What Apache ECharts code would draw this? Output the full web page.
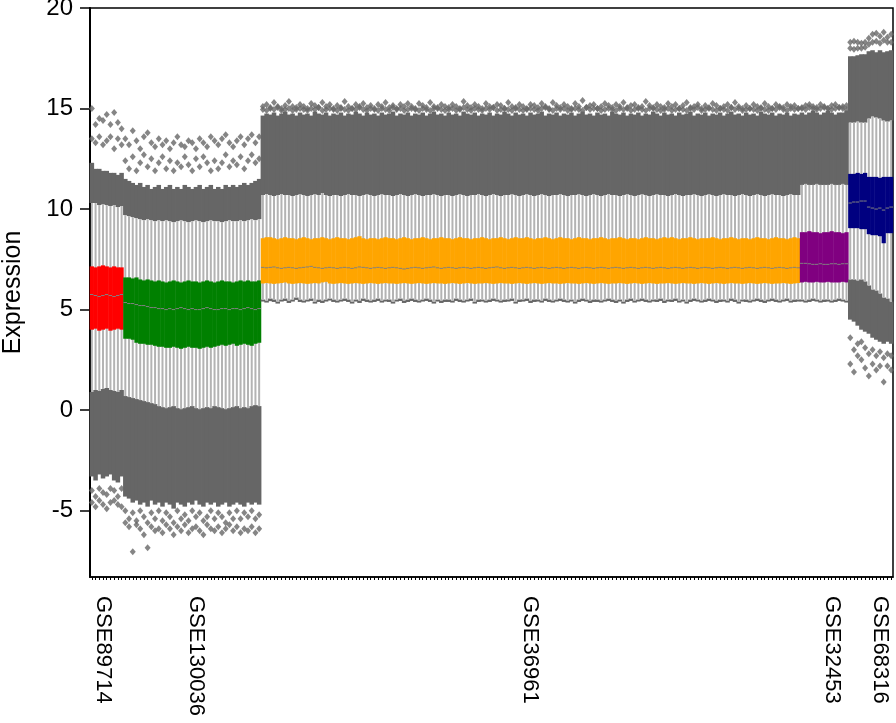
<!DOCTYPE html>
<html><head><meta charset="utf-8">
<script src="https://cdn.jsdelivr.net/npm/echarts@6/dist/echarts.min.js"></script>
<style>html,body{margin:0;padding:0;background:#fff}#c{width:896px;height:723px}</style>
</head><body><div id="c"></div>
<script>
// ---- groups ----
const groupNames = ['GSE89714','GSE130036','GSE36961','GSE32453','GSE68316'];
const groupSizes = [9, 37, 145, 13, 12];
const groupColors = ['#ff0000','#008000','#ffa500','#800080','#000080'];
const labelIndex = [3, 28, 118, 199, 212];

// ---- per-sample statistics ----
// lower end of the dense lower outlier band
const dLo = [
 -3.3,-3.5,-3.2,-3.4,-3.3,-3.2,-3.5,-3.6,-3.3,
 -4.3,-4.4,-4.6,-4.5,-4.7,-4.6,-4.8,-4.5,-4.7,-4.6,
 -4.8,-4.6,-4.7,-4.9,-4.6,-4.7,-4.8,-4.6,-4.7,-4.5,
 -4.7,-4.8,-4.6,-4.7,-4.6,-4.8,-4.7,-4.6,-4.8,-4.7,
 -4.6,-4.7,-4.8,-4.6,-4.7,-4.6,-4.7,
 5.4,5.35,5.42,5.38,5.3,5.4,5.43,5.33,5.4,5.48,
 5.38,5.35,5.4,5.43,5.3,5.38,5.33,5.4,5.45,5.38,
 5.35,5.4,5.43,5.38,5.3,5.4,5.33,5.43,5.38,5.35,
 5.38,5.43,5.35,5.4,5.38,5.3,5.4,5.43,5.33,5.38,
 5.43,5.38,5.35,5.4,5.43,5.38,5.3,5.4,5.33,5.38,
 5.38,5.35,5.43,5.38,5.35,5.4,5.43,5.3,5.38,5.4,
 5.35,5.38,5.43,5.4,5.35,5.38,5.4,5.43,5.3,5.38,
 5.4,5.43,5.33,5.38,5.4,5.35,5.43,5.38,5.35,5.4,
 5.43,5.38,5.35,5.4,5.3,5.38,5.43,5.4,5.33,5.38,
 5.38,5.35,5.4,5.43,5.38,5.33,5.4,5.3,5.38,5.43,
 5.35,5.4,5.43,5.38,5.35,5.4,5.38,5.43,5.33,5.4,
 5.38,5.43,5.35,5.4,5.3,5.38,5.43,5.4,5.35,5.38,
 5.43,5.4,5.33,5.38,5.4,5.35,5.43,5.38,5.3,5.4,
 5.38,5.35,5.4,5.43,5.38,5.33,5.4,5.43,5.38,5.35,
 5.4,5.43,5.35,5.38,5.4,
 5.4,5.35,5.38,5.43,5.4,5.35,5.38,5.4,5.35,5.38,5.43,5.4,5.35,
 4.5,4.4,4.2,4.0,3.9,3.8,3.6,3.5,3.4,3.3,3.4,3.3
];
// lower whisker end
const wLo = [
 0.9,1.0,0.95,1.05,1.1,1.0,0.95,0.9,1.0,
 0.7,0.65,0.6,0.55,0.5,0.45,0.4,0.35,0.3,0.2,
 0.15,0.1,0.15,0.2,0.1,0.05,0.1,0.15,0.2,0.1,
 0.05,0.1,0.15,0.1,0.2,0.15,0.1,0.05,0.1,0.15,
 0.2,0.1,0.15,0.1,0.2,0.25,0.2,
 5.5,5.45,5.55,5.5,5.4,5.5,5.55,5.45,5.5,5.6,
 5.5,5.45,5.5,5.55,5.4,5.5,5.45,5.5,5.55,5.5,
 5.45,5.5,5.55,5.5,5.4,5.5,5.45,5.55,5.5,5.45,
 5.5,5.55,5.45,5.5,5.5,5.4,5.5,5.55,5.45,5.5,
 5.55,5.5,5.45,5.5,5.55,5.5,5.4,5.5,5.45,5.5,
 5.5,5.45,5.55,5.5,5.45,5.5,5.55,5.4,5.5,5.5,
 5.45,5.5,5.55,5.5,5.45,5.5,5.5,5.55,5.4,5.5,
 5.5,5.55,5.45,5.5,5.5,5.45,5.55,5.5,5.45,5.5,
 5.55,5.5,5.45,5.5,5.4,5.5,5.55,5.5,5.45,5.5,
 5.5,5.45,5.5,5.55,5.5,5.45,5.5,5.4,5.5,5.55,
 5.45,5.5,5.55,5.5,5.45,5.5,5.5,5.55,5.45,5.5,
 5.5,5.55,5.45,5.5,5.4,5.5,5.55,5.5,5.45,5.5,
 5.55,5.5,5.45,5.5,5.5,5.45,5.55,5.5,5.4,5.5,
 5.5,5.45,5.5,5.55,5.5,5.45,5.5,5.55,5.5,5.45,
 5.5,5.55,5.45,5.5,5.5,
 5.5,5.45,5.5,5.55,5.5,5.45,5.5,5.5,5.45,5.5,5.55,5.5,5.45,
 6.5,6.5,6.45,6.5,6.4,6.2,6.0,5.95,5.8,5.6,5.55,5.4
];
// first quartile
const q1 = [
 4.0,4.05,3.95,4.0,4.05,3.95,4.0,4.05,4.0,
 3.55,3.55,3.5,3.35,3.3,3.3,3.25,3.25,3.2,3.15,
 3.15,3.1,3.1,3.15,3.1,3.05,3.1,3.15,3.1,3.1,
 3.05,3.1,3.15,3.1,3.15,3.2,3.25,3.2,3.25,3.3,
 3.2,3.25,3.3,3.25,3.2,3.3,3.35,
 6.3,6.32,6.3,6.28,6.3,6.32,6.35,6.3,6.28,6.3,
 6.32,6.3,6.28,6.3,6.32,6.3,6.35,6.38,6.3,6.28,
 6.3,6.32,6.3,6.28,6.3,6.32,6.3,6.28,6.3,6.32,
 6.3,6.28,6.3,6.32,6.3,6.3,6.28,6.3,6.32,6.3,
 6.28,6.3,6.32,6.3,6.28,6.3,6.32,6.3,6.3,6.28,
 6.3,6.32,6.3,6.28,6.3,6.32,6.3,6.28,6.3,6.3,
 6.32,6.3,6.28,6.3,6.32,6.3,6.3,6.28,6.3,6.32,
 6.3,6.28,6.3,6.32,6.3,6.28,6.3,6.32,6.3,6.3,
 6.28,6.3,6.32,6.3,6.3,6.28,6.3,6.32,6.3,6.28,
 6.3,6.32,6.3,6.28,6.3,6.3,6.32,6.3,6.28,6.3,
 6.32,6.3,6.28,6.3,6.32,6.3,6.28,6.3,6.3,6.32,
 6.3,6.28,6.3,6.32,6.3,6.3,6.28,6.3,6.32,6.3,
 6.28,6.3,6.32,6.3,6.28,6.3,6.32,6.3,6.3,6.28,
 6.3,6.32,6.3,6.28,6.3,6.32,6.3,6.28,6.3,6.3,
 6.32,6.3,6.28,6.3,6.32,
 6.35,6.38,6.35,6.35,6.38,6.35,6.35,6.38,6.35,6.35,6.35,6.38,6.35,
 9.05,9.05,9.05,9.0,9.0,8.75,8.7,8.7,8.65,8.3,8.8,8.8
];
// median
const med = [
 5.75,5.7,5.65,5.7,5.75,5.7,5.65,5.7,5.75,
 5.35,5.3,5.3,5.25,5.2,5.2,5.15,5.1,5.1,5.05,
 5.05,5.0,5.05,5.0,5.05,5.1,5.05,5.0,5.05,5.0,
 5.0,5.05,5.1,5.05,5.0,5.0,5.05,5.05,5.0,5.05,
 5.05,5.0,5.05,5.1,5.05,5.0,5.05,
 7.1,7.08,7.1,7.12,7.08,7.05,7.08,7.1,7.08,7.05,
 7.08,7.1,7.12,7.15,7.1,7.08,7.05,7.08,7.1,7.08,
 7.05,7.08,7.1,7.08,7.05,7.08,7.12,7.1,7.08,7.05,
 7.08,7.1,7.08,7.05,7.08,7.1,7.08,7.05,7.02,7.05,
 7.08,7.1,7.08,7.05,7.08,7.1,7.12,7.08,7.05,7.08,
 7.1,7.08,7.05,7.08,7.1,7.08,7.05,7.08,7.1,7.08,
 7.05,7.08,7.1,7.12,7.08,7.05,7.08,7.1,7.08,7.05,
 7.08,7.1,7.08,7.05,7.08,7.1,7.08,7.05,7.08,7.1,
 7.08,7.05,7.08,7.1,7.08,7.05,7.08,7.1,7.08,7.05,
 7.08,7.1,7.08,7.05,7.08,7.1,7.08,7.05,7.08,7.1,
 7.08,7.05,7.08,7.1,7.08,7.05,7.08,7.1,7.08,7.05,
 7.08,7.1,7.08,7.05,7.08,7.1,7.08,7.05,7.08,7.1,
 7.08,7.05,7.08,7.1,7.08,7.05,7.08,7.1,7.08,7.05,
 7.08,7.1,7.08,7.05,7.08,7.1,7.08,7.05,7.08,7.1,
 7.08,7.05,7.08,7.1,7.08,
 7.3,7.3,7.28,7.25,7.25,7.28,7.25,7.25,7.28,7.28,7.25,7.28,7.28,
 10.3,10.35,10.35,10.4,10.4,10.1,10.05,10.0,10.05,9.95,10.05,10.1
];
// third quartile
const q3 = [
 7.15,7.1,7.15,7.2,7.15,7.1,7.15,7.1,7.1,
 6.6,6.6,6.55,6.6,6.5,6.45,6.5,6.45,6.4,6.45,
 6.4,6.35,6.4,6.45,6.4,6.35,6.4,6.45,6.4,6.4,
 6.35,6.4,6.45,6.4,6.35,6.4,6.45,6.4,6.4,6.35,
 6.4,6.45,6.4,6.45,6.4,6.4,6.45,
 8.55,8.6,8.6,8.55,8.5,8.55,8.6,8.55,8.55,8.5,
 8.55,8.6,8.55,8.5,8.55,8.55,8.6,8.55,8.5,8.55,
 8.6,8.55,8.55,8.5,8.55,8.6,8.65,8.55,8.5,8.55,
 8.55,8.5,8.55,8.6,8.55,8.55,8.5,8.55,8.6,8.55,
 8.5,8.55,8.55,8.6,8.55,8.5,8.55,8.55,8.6,8.55,
 8.55,8.5,8.55,8.6,8.55,8.55,8.5,8.55,8.55,8.6,
 8.55,8.5,8.55,8.55,8.6,8.55,8.5,8.55,8.6,8.55,
 8.55,8.6,8.55,8.5,8.55,8.55,8.6,8.55,8.5,8.55,
 8.6,8.55,8.55,8.5,8.55,8.6,8.55,8.55,8.5,8.55,
 8.55,8.6,8.55,8.5,8.55,8.55,8.6,8.55,8.5,8.55,
 8.55,8.5,8.55,8.6,8.55,8.55,8.5,8.55,8.6,8.55,
 8.6,8.55,8.5,8.55,8.55,8.6,8.55,8.5,8.55,8.55,
 8.55,8.6,8.55,8.5,8.55,8.55,8.6,8.55,8.5,8.55,
 8.55,8.5,8.55,8.6,8.55,8.55,8.5,8.55,8.6,8.55,
 8.55,8.5,8.55,8.6,8.55,
 8.85,8.85,8.9,8.85,8.85,8.8,8.85,8.85,8.9,8.85,8.85,8.8,8.85,
 11.75,11.75,11.8,11.75,11.8,11.6,11.6,11.6,11.55,11.6,11.6,11.6
];
// upper whisker end
const wHi = [
 10.3,10.3,10.2,10.25,10.2,10.15,10.2,10.1,10.15,
 9.7,9.65,9.6,9.55,9.5,9.45,9.5,9.45,9.4,9.45,
 9.4,9.45,9.4,9.35,9.4,9.45,9.4,9.35,9.4,9.45,
 9.4,9.35,9.4,9.45,9.4,9.4,9.35,9.4,9.45,9.4,
 9.4,9.45,9.4,9.45,9.5,9.45,9.5,
 10.7,10.75,10.7,10.65,10.7,10.75,10.7,10.7,10.65,10.7,
 10.75,10.7,10.65,10.7,10.75,10.7,10.8,10.7,10.65,10.7,
 10.7,10.65,10.7,10.75,10.7,10.7,10.65,10.7,10.75,10.7,
 10.65,10.7,10.75,10.7,10.7,10.65,10.7,10.75,10.7,10.65,
 10.7,10.75,10.7,10.65,10.7,10.7,10.75,10.7,10.65,10.7,
 10.7,10.65,10.7,10.75,10.7,10.65,10.7,10.7,10.75,10.7,
 10.65,10.7,10.75,10.7,10.65,10.7,10.7,10.75,10.7,10.65,
 10.7,10.75,10.7,10.65,10.7,10.75,10.7,10.65,10.7,10.7,
 10.75,10.7,10.65,10.7,10.7,10.75,10.7,10.65,10.7,10.75,
 10.7,10.65,10.7,10.75,10.7,10.7,10.65,10.7,10.75,10.7,
 10.65,10.7,10.75,10.7,10.65,10.7,10.75,10.7,10.7,10.65,
 10.7,10.75,10.7,10.65,10.7,10.7,10.75,10.7,10.65,10.7,
 10.75,10.7,10.65,10.7,10.75,10.7,10.7,10.65,10.7,10.75,
 10.7,10.65,10.7,10.75,10.7,10.65,10.7,10.75,10.7,10.7,
 10.65,10.7,10.75,10.7,10.7,
 11.2,11.25,11.2,11.2,11.25,11.2,11.2,11.2,11.25,11.2,11.2,11.25,11.2,
 14.3,14.3,14.35,14.3,14.3,14.5,14.6,14.55,14.5,14.4,14.35,14.4
];
// upper end of the dense upper outlier band
const dHi = [
 12.3,12.0,12.0,11.9,11.9,11.8,11.8,11.7,11.8,
 11.5,11.4,11.3,11.2,11.3,11.1,11.2,11.0,11.1,11.2,
 11.0,11.1,11.2,11.0,11.1,11.0,11.2,11.1,11.0,11.1,
 11.2,11.0,11.1,11.2,11.0,11.1,11.0,11.2,11.1,11.2,
 11.1,11.2,11.3,11.2,11.3,11.4,11.5,
 14.65,14.75,14.7,14.8,14.65,14.75,14.85,14.7,14.75,14.65,
 14.8,14.7,14.75,14.65,14.85,14.75,14.7,14.8,14.65,14.75,
 14.7,14.8,14.65,14.75,14.7,14.85,14.75,14.65,14.8,14.7,
 14.75,14.65,14.8,14.7,14.75,14.85,14.65,14.75,14.7,14.8,
 14.65,14.75,14.7,14.8,14.65,14.75,14.85,14.7,14.75,14.65,
 14.8,14.7,14.75,14.65,14.85,14.75,14.7,14.8,14.65,14.75,
 14.7,14.8,14.65,14.75,14.7,14.85,14.75,14.65,14.8,14.7,
 14.75,14.65,14.8,14.7,14.75,14.85,14.65,14.75,14.7,14.8,
 14.65,14.75,14.7,14.8,14.65,14.75,14.85,14.7,14.75,14.65,
 14.8,14.7,14.75,14.65,14.85,14.75,14.7,14.8,14.65,14.75,
 14.7,14.8,14.65,14.75,14.7,14.85,14.75,14.65,14.8,14.7,
 14.75,14.65,14.8,14.7,14.75,14.85,14.65,14.75,14.7,14.8,
 14.65,14.75,14.7,14.8,14.65,14.75,14.85,14.7,14.75,14.65,
 14.8,14.7,14.75,14.65,14.85,14.75,14.7,14.8,14.65,14.75,
 14.7,14.8,14.65,14.75,14.7,
 14.8,14.7,14.8,14.9,14.8,14.7,14.8,14.9,14.8,14.7,14.8,14.8,14.9,
 17.6,17.6,17.65,17.7,17.7,17.85,17.9,17.8,17.9,17.8,17.85,17.9
];
// sparse upper outliers
const upMid = [
 13.5,13.3,13.6,13.2,13.4,13.6,13.0,13.5,13.2,
 12.4,12.0,12.6,11.9,12.3,12.7,12.1,12.5,11.9,12.3,
 12.6,12.0,12.4,11.9,12.3,12.1,12.6,12.2,11.9,12.5,
 12.1,12.6,12.3,11.9,12.4,12.0,12.3,12.7,12.1,12.4,
 12.2,12.6,12.0,12.4,12.7,12.3,12.5,
 14.95,14.9,15.0,14.95,15.05,14.9,14.95,15.0,14.9,14.95,
 15.0,14.95,14.9,15.0,14.95,15.05,14.9,14.95,15.0,14.95,
 14.9,15.0,14.95,14.9,15.0,14.95,15.05,14.95,14.9,15.0,
 14.95,14.9,15.0,14.95,14.9,15.05,14.95,15.0,14.9,14.95,
 15.0,14.95,14.9,15.0,14.95,14.9,15.0,15.05,14.95,14.9,
 14.95,15.0,14.9,14.95,15.05,14.95,14.9,15.0,14.95,14.9,
 15.0,14.95,15.05,14.9,14.95,15.0,14.95,14.9,15.0,14.95,
 14.9,14.95,15.0,14.95,14.9,15.0,15.05,14.95,14.9,15.0,
 14.95,15.0,14.9,14.95,15.0,14.95,14.9,15.05,14.95,15.0,
 15.0,14.9,14.95,15.0,14.95,14.9,15.0,14.95,15.05,14.9,
 14.95,15.0,14.95,14.9,15.0,15.05,14.95,14.9,14.95,15.0,
 14.9,14.95,15.0,14.95,14.9,15.0,14.95,15.05,14.9,14.95,
 15.0,14.95,14.9,15.0,14.95,14.9,15.05,14.95,15.0,14.9,
 14.95,15.0,14.95,14.9,15.0,14.95,14.9,15.0,14.95,15.05,
 14.95,14.9,15.0,14.95,15.0,
 15.0,14.95,15.05,15.0,14.95,15.0,15.05,15.0,14.95,15.0,15.05,15.0,14.95,
 18.0,17.95,18.0,18.0,18.05,18.2,18.3,18.35,18.25,18.4,18.3,18.3
];
const upMax = [
 15.0,14.2,14.5,14.4,14.7,14.2,14.8,14.3,14.0,
 13.5,13.2,13.9,13.4,13.0,13.6,13.8,13.3,13.1,13.5,
 13.2,13.4,13.0,13.3,13.6,13.2,13.1,13.4,13.3,13.0,
 13.5,13.3,13.1,13.6,13.4,13.2,13.5,13.7,13.3,13.1,
 13.4,13.6,13.2,13.5,13.7,13.3,13.6,
 15.1,15.2,15.05,15.3,15.1,15.0,15.15,15.35,15.1,15.05,
 15.2,15.1,15.0,15.25,15.15,15.05,15.3,15.1,15.2,15.0,
 15.15,15.05,15.35,15.1,15.0,15.2,15.1,15.25,15.05,15.15,
 15.0,15.2,15.1,15.3,15.05,15.15,15.0,15.2,15.1,15.25,
 15.1,15.0,15.25,15.15,15.05,15.3,15.1,15.0,15.2,15.1,
 15.05,15.2,15.1,15.0,15.35,15.15,15.05,15.2,15.1,15.0,
 15.25,15.1,15.05,15.2,15.15,15.0,15.3,15.1,15.05,15.2,
 15.1,15.0,15.2,15.15,15.05,15.25,15.1,15.0,15.3,15.15,
 15.05,15.2,15.1,15.0,15.25,15.1,15.4,15.05,15.15,15.2,
 15.0,15.1,15.25,15.15,15.05,15.2,15.1,15.3,15.0,15.15,
 15.2,15.05,15.1,15.35,15.15,15.0,15.2,15.1,15.05,15.25,
 15.1,15.2,15.0,15.15,15.3,15.05,15.1,15.2,15.0,15.15,
 15.05,15.25,15.15,15.0,15.1,15.2,15.05,15.3,15.1,15.0,
 15.15,15.0,15.2,15.1,15.05,15.25,15.1,15.0,15.2,15.1,
 15.05,15.2,15.1,15.15,15.0,
 15.05,15.15,15.2,15.1,15.05,15.2,15.1,15.0,15.15,15.2,15.05,15.1,15.15,
 18.3,18.35,18.3,18.25,18.3,18.5,18.7,18.75,18.6,18.8,18.55,18.7
];
// sparse lower outliers (null where none are drawn)
const loMid = [
 -4.0,-4.3,-3.9,-4.1,-4.2,-3.9,-4.0,-4.3,-3.9,
 -5.0,-5.4,-5.1,-5.5,-5.0,-5.3,-5.6,-5.1,-5.4,-5.0,
 -5.5,-5.1,-5.3,-5.6,-5.0,-5.4,-5.2,-5.5,-5.0,-5.3,
 -5.1,-5.5,-5.3,-5.0,-5.4,-5.1,-5.3,-5.6,-5.1,-5.4,
 -5.0,-5.4,-5.1,-5.3,-5.0,-5.4,-5.2,
 null,null,null,null,null,null,null,null,null,null,null,null,null,null,null,null,null,null,null,null,
 null,null,null,null,null,null,null,null,null,null,null,null,null,null,null,null,null,null,null,null,
 null,null,null,null,null,null,null,null,null,null,null,null,null,null,null,null,null,null,null,null,
 null,null,null,null,null,null,null,null,null,null,null,null,null,null,null,null,null,null,null,null,
 null,null,null,null,null,null,null,null,null,null,null,null,null,null,null,null,null,null,null,null,
 null,null,null,null,null,null,null,null,null,null,null,null,null,null,null,null,null,null,null,null,
 null,null,null,null,null,null,null,null,null,null,null,null,null,null,null,null,null,null,null,null,
 null,null,null,null,null,
 null,null,null,null,null,null,null,null,null,null,null,null,null,
 3.6,3.0,3.3,3.4,3.1,2.8,3.0,2.7,2.9,2.6,2.8,2.7
];
const loMin = [
 -4.6,-4.8,-4.5,-4.7,-4.9,-4.6,-4.5,-4.7,-4.8,
 -5.6,-5.8,-7.05,-5.7,-5.9,-6.2,-6.85,-5.8,-6.0,-5.9,
 -6.1,-5.7,-5.9,-6.2,-5.8,-6.0,-5.7,-6.1,-5.9,-5.8,
 -6.0,-6.2,-5.7,-5.9,-6.0,-5.8,-6.1,-5.9,-5.7,-6.0,
 -5.8,-6.1,-5.9,-6.0,-5.8,-6.1,-5.9,
 null,null,null,null,null,null,null,null,null,null,null,null,null,null,null,null,null,null,null,null,
 null,null,null,null,null,null,null,null,null,null,null,null,null,null,null,null,null,null,null,null,
 null,null,null,null,null,null,null,null,null,null,null,null,null,null,null,null,null,null,null,null,
 null,null,null,null,null,null,null,null,null,null,null,null,null,null,null,null,null,null,null,null,
 null,null,null,null,null,null,null,null,null,null,null,null,null,null,null,null,null,null,null,null,
 null,null,null,null,null,null,null,null,null,null,null,null,null,null,null,null,null,null,null,null,
 null,null,null,null,null,null,null,null,null,null,null,null,null,null,null,null,null,null,null,null,
 null,null,null,null,null,
 null,null,null,null,null,null,null,null,null,null,null,null,null,
 2.3,1.9,2.7,2.5,2.1,1.7,2.3,2.0,2.2,1.4,2.2,2.0
];

// ---- build ----
const N = groupSizes.reduce((a, b) => a + b, 0);
const arrs = {dLo, wLo, q1, med, q3, wHi, dHi, upMid, upMax, loMid, loMin};
for (const k in arrs) if (arrs[k].length !== N) throw new Error(k + ' length ' + arrs[k].length + ' != ' + N);

const categories = [], groupOf = [];
groupNames.forEach((g, gi) => { for (let k = 0; k < groupSizes[gi]; k++) { categories.push(g); groupOf.push(gi); } });

const boxData = categories.map((c, i) => [i, dLo[i], wLo[i], q1[i], med[i], q3[i], wHi[i], dHi[i], groupOf[i]]);
const outlierPts = [];
categories.forEach((c, i) => {
  [upMid, upMax, loMid, loMin].forEach(a => { if (a[i] != null) outlierPts.push([i, a[i]]); });
});

const FONT = '"Liberation Sans", Arial, sans-serif';
const DENSE = '#666666';

function renderItem(params, api) {
  const i = api.value(0);
  const bw = api.size([1, 0])[0];
  const cx = api.coord([i, 0])[0];
  const Y = v => api.coord([i, v])[1];
  const v = k => api.value(k);
  const col = groupColors[v(8)];
  const ch = [];
  const band = (a, b) => {
    const ya = Y(a), yb = Y(b);
    ch.push({type: 'rect', shape: {x: cx - bw / 2 - 0.4, y: Math.min(ya, yb), width: bw + 0.8, height: Math.abs(ya - yb)},
             style: {fill: DENSE}});
  };
  if (v(1) < v(2)) band(v(1), v(2));
  if (v(7) > v(6)) band(v(6), v(7));
  ch.push({type: 'line', shape: {x1: cx, y1: Y(v(2)), x2: cx, y2: Y(v(6))}, style: {stroke: '#b3b3b3', lineWidth: 2}});
  ch.push({type: 'rect', shape: {x: cx - bw / 2 - 0.25, y: Y(v(5)), width: bw + 0.5, height: Y(v(3)) - Y(v(5))}, style: {fill: col}});
  ch.push({type: 'line', shape: {x1: cx - bw / 2, y1: Y(v(4)), x2: cx + bw / 2, y2: Y(v(4))}, style: {stroke: '#808080', lineWidth: 1}});
  return {type: 'group', children: ch};
}

const chart = echarts.init(document.getElementById('c'), null, {renderer: 'canvas'});
chart.setOption({
  animation: false,
  backgroundColor: '#ffffff',
  grid: {left: 90, right: 3, top: 8, bottom: 146, containLabel: false, outerBoundsMode: 'none',
         show: true, borderColor: '#000', borderWidth: 1.5, backgroundColor: 'transparent'},
  xAxis: {
    type: 'category', data: categories, boundaryGap: true,
    axisLine: {onZero: false, lineStyle: {color: '#000', width: 1.5}},
    axisTick: {show: true, interval: 0, alignWithLabel: true, length: 3, lineStyle: {color: '#000', width: 1}},
    axisLabel: {
      interval: 0, rotate: -90, margin: 19, fontSize: 22, color: '#000', fontFamily: FONT,
      formatter: (val, idx) => labelIndex.includes(idx) ? val : ''
    },
    splitLine: {show: false}
  },
  yAxis: {
    type: 'value', min: -8.3, max: 20,
    name: 'Expression', nameLocation: 'middle', nameGap: 64,
    nameTextStyle: {fontSize: 25, color: '#000', fontFamily: FONT},
    axisLine: {show: true, lineStyle: {color: '#000', width: 2}},
    axisTick: {show: true, length: 10, lineStyle: {color: '#000', width: 1.5}},
    axisLabel: {fontSize: 24, color: '#000', fontFamily: FONT, margin: 17, showMinLabel: false},
    splitLine: {show: false}
  },
  series: [
    {type: 'custom', renderItem, data: boxData, encode: {x: 0, y: [1, 2, 3, 4, 5, 6, 7]}, silent: true},
    {type: 'scatter', data: outlierPts, symbol: 'diamond', symbolSize: [6, 7], itemStyle: {color: DENSE}, silent: true}
  ]
});
</script>
</body></html>
